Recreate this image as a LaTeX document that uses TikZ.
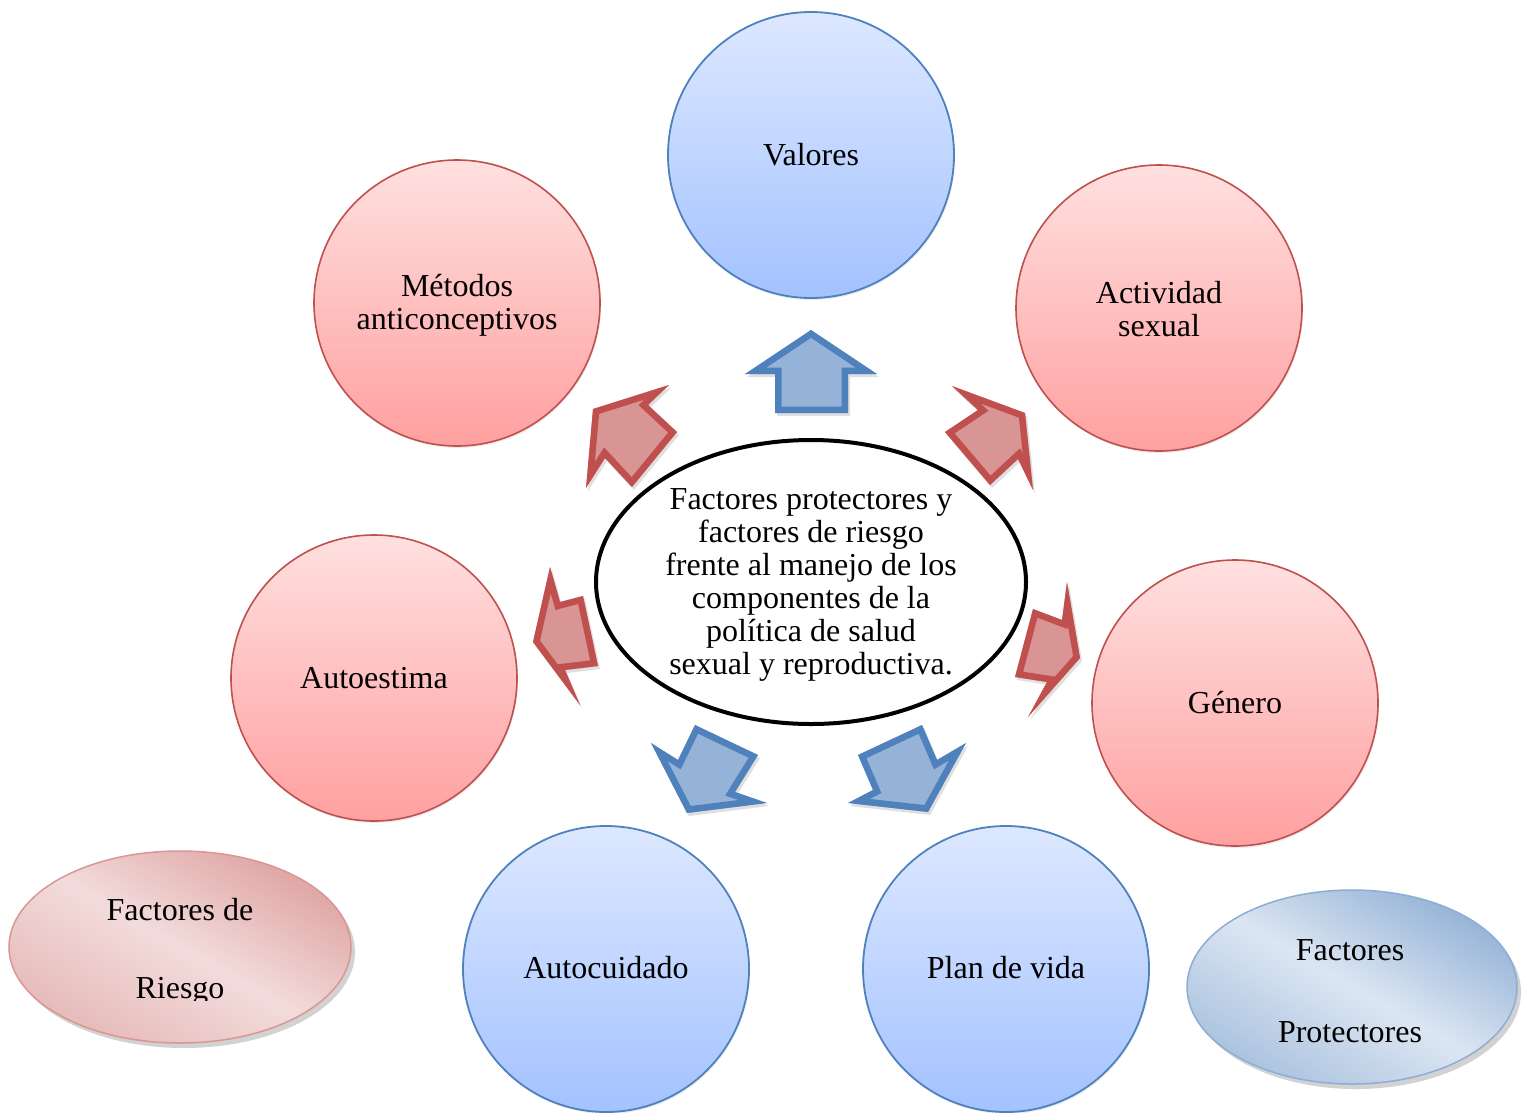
\documentclass[tikz,border=0pt]{standalone}
\usepackage{fontspec}
\setmainfont{Liberation Serif}
\usetikzlibrary{shapes.geometric,shadows}

\definecolor{redfillTop}{HTML}{FFE0E0}
\definecolor{redfillBot}{HTML}{FFA0A0}
\definecolor{redline}{HTML}{C0504D}
\definecolor{redarrow}{HTML}{D99594}
\definecolor{bluefillTop}{HTML}{DDE8FF}
\definecolor{bluefillBot}{HTML}{A3C2FF}
\definecolor{blueline}{HTML}{4F81BD}
\definecolor{bluearrow}{HTML}{95B3D7}
\definecolor{redlegLight}{HTML}{F2DCDB}
\definecolor{bluelegLight}{HTML}{DCE6F2}

% block arrow: light fill, border drawn inside the outline
\newcommand{\blkarrow}[3]{%
  \begin{scope}
    \fill[#1, drop shadow={shadow xshift=2pt, shadow yshift=-3pt, opacity=0.25}] #3 -- cycle;
    \clip #3 -- cycle;
    \draw[#2, line width=13pt, line join=miter] #3 -- cycle;
  \end{scope}}

\tikzset{
  txt/.style={font=\fontsize{32}{33}\selectfont, align=center, inner sep=0pt},
  redball/.style={circle, minimum size=286pt, draw=redline, line width=1.6pt,
    top color=redfillTop, bottom color=redfillBot,
    drop shadow={shadow xshift=1pt, shadow yshift=-2pt, opacity=0.15}},
  blueball/.style={circle, minimum size=286pt, draw=blueline, line width=1.8pt,
    top color=bluefillTop, bottom color=bluefillBot,
    drop shadow={shadow xshift=1pt, shadow yshift=-2pt, opacity=0.15}},
  legend/.style={ellipse, line width=1.5pt,
    drop shadow={shadow xshift=4pt, shadow yshift=-5pt, opacity=0.35}},
}

\begin{document}
\begin{tikzpicture}[x=1pt, y=-1pt]
  \useasboundingbox (0,0) rectangle (1525,1112);
  \clip (0,0) rectangle (1525,1112);
  \fill[white] (0,0) rectangle (1525,1112);

  % outer circles
  \node[blueball] (valores) at (811,155) {};
  \node[redball]  (metodos) at (457,303) {};
  \node[redball]  (actividad) at (1159,308) {};
  \node[redball]  (autoestima) at (374,678) {};
  \node[redball]  (genero) at (1235,703) {};
  \node[blueball] (autocuidado) at (606,969) {};
  \node[blueball] (plan) at (1006,969) {};

  \node[txt] (tvalores) at (valores) {Valores};
  \node[txt] (tmetodos) at (457,305) {Métodos\\anticonceptivos};
  \node[txt] (tactividad) at (1159,309) {Actividad\\sexual};
  \node[txt] (tautoestima) at (autoestima) {Autoestima};
  \node[txt] (tgenero) at (genero) {Género};
  \node[txt] (tautocuidado) at (606,968) {Autocuidado};
  \node[txt] (tplan) at (1006,968) {Plan de vida};

  % central ellipse
  \node[ellipse, draw=black, line width=4pt, fill=white,
        minimum width=430pt, minimum height=284pt] (centro) at (811,582) {};
  \node[txt] (tcentro) at (811,585) {Factores protectores y\\factores de riesgo\\frente al manejo de los\\componentes de la\\política de salud\\sexual y reproductiva.};

  % block arrows
  \blkarrow{bluearrow}{blueline}{(811,330) -- (877,374) -- (848,374) -- (848,413) -- (775,413) -- (775,374) -- (745,374)}
  \blkarrow{redarrow}{redline}{(593,409) -- (669,385) -- (648,405) -- (677,432) -- (632,487) -- (605,458) -- (586,488)}
  \blkarrow{redarrow}{redline}{(1025,413) -- (1033,490) -- (1018,459) -- (990,485) -- (945,432) -- (978,410) -- (952,386)}
  \blkarrow{redarrow}{redline}{(533,642) -- (550,567) -- (560,602) -- (583,596) -- (598,666) -- (565,670) -- (580,705)}
  \blkarrow{redarrow}{redline}{(1080,658) -- (1028,717) -- (1047,682) -- (1015,677) -- (1033,609) -- (1062,620) -- (1067,582)}
  \blkarrow{bluearrow}{blueline}{(687,813) -- (651,743) -- (678,760) -- (695,725) -- (758,755) -- (735,792) -- (767,803)}
  \blkarrow{bluearrow}{blueline}{(928,812) -- (848,803) -- (873,790) -- (858,755) -- (922,725) -- (937,760) -- (966,743)}

  % legend
  \node[legend, minimum width=342pt, minimum height=192pt, draw=redline!60,
        top color=redarrow!85!white, bottom color=redarrow!65!white,
        middle color=redlegLight, shading angle=-30] (riesgo) at (180,947) {};
  \node[txt] (triesgo1) at (180,910) {Factores de};
  \begin{scope}
    \clip (0,0) rectangle (1525,1000);
    \node[txt, anchor=base] (triesgo2) at (180,998) {Riesgo};
  \end{scope}

  \node[legend, minimum width=330pt, minimum height=194pt, draw=blueline!65,
        top color=bluearrow, bottom color=bluearrow!80!white,
        middle color=bluelegLight, shading angle=-30] (protect) at (1352,987) {};
  \node[txt] (tprotect1) at (1350,950) {Factores};
  \node[txt] (tprotect2) at (1350,1032) {Protectores};
\end{tikzpicture}
\end{document}
